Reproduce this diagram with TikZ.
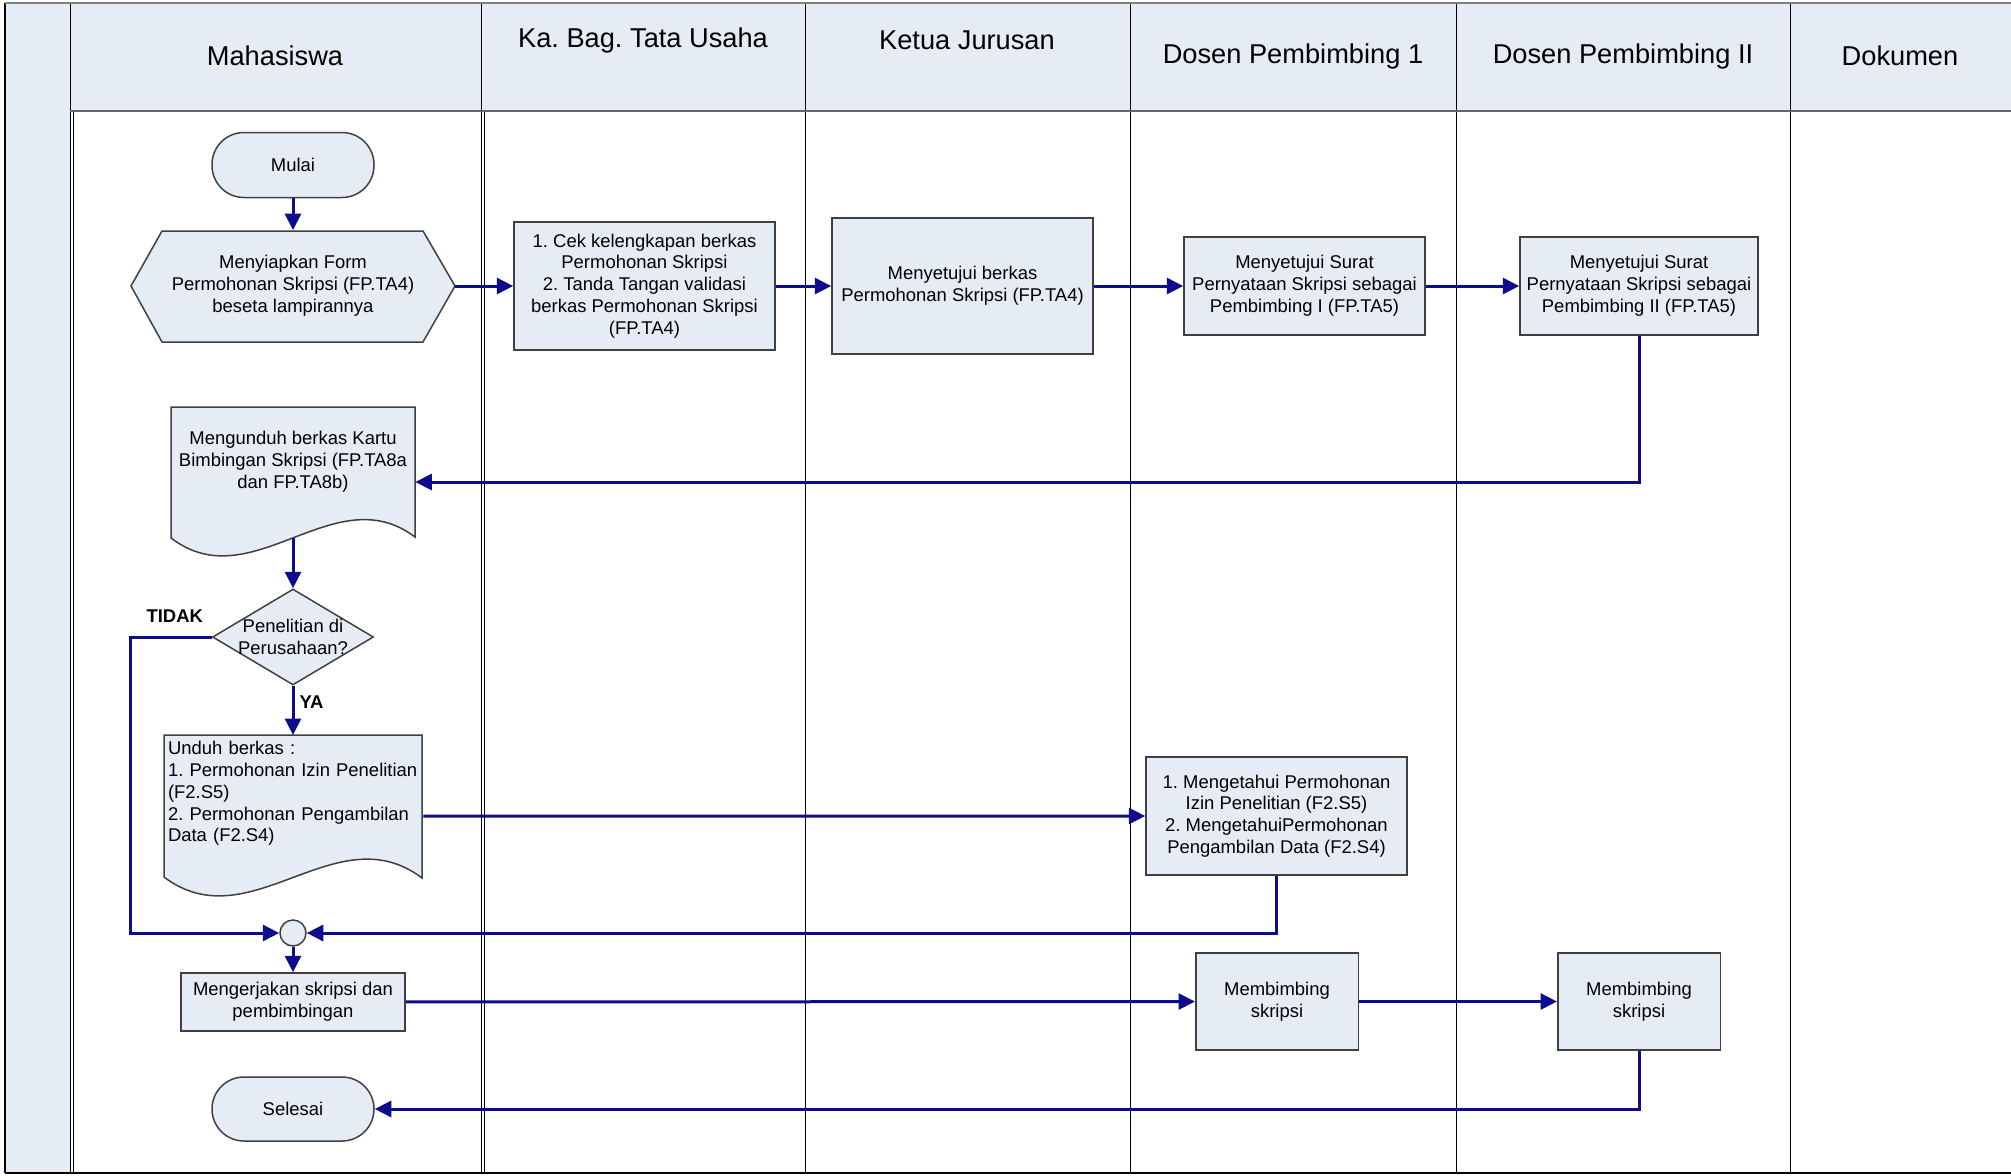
\documentclass[tikz,border=0pt]{standalone}
\usepackage{fontspec}
\setmainfont{Liberation Sans}
\usetikzlibrary{arrows.meta,shapes.geometric}
\definecolor{laneblue}{HTML}{E6ECF6}
\definecolor{flowblue}{HTML}{0C0C8C}
\definecolor{edgegray}{HTML}{404040}
\frenchspacing

\tikzset{
	shp/.style={draw=edgegray,line width=0.3mm,fill=laneblue},
	proc/.style={shp,rectangle,align=center,inner sep=1mm,font=\fontsize{10.5}{12.4}\selectfont},
	term/.style={proc,rounded corners=6.4mm,minimum width=32.4mm,minimum height=13mm},
	txt/.style={align=center,inner sep=1mm,font=\fontsize{10.5}{12.4}\selectfont},
	flow/.style={draw=flowblue,line width=0.6mm,-{Triangle[length=3.3mm,width=3.2mm]}},
	lane/.style={line width=0.2mm},
	head/.style={font=\fontsize{15.5}{18}\selectfont},
	yesno/.style={font=\bfseries\fontsize{10.5}{12.4}\selectfont,inner sep=1mm}
}

\begin{document}
\begin{tikzpicture}[x=0.2mm,y=-0.2mm]
	\useasboundingbox (0,0) rectangle (2011,1176);
	\fill[laneblue] (5,3) rectangle (70,1173);
	\fill[laneblue] (70,3) rectangle (2011,111);
	\draw[line width=0.35mm] (5,3) -- (5,1173);
	\foreach \x in {70,481,805,1130,1456,1790}
		\draw[lane] (\x,3) -- (\x,1173);
	\foreach \x in {73,484}
		\draw[lane] (\x,111) -- (\x,1173);
	\draw[gray,line width=0.5mm] (5,3) -- (2011,3);
	\draw[gray!80!black,line width=0.5mm] (70,111) -- (2011,111);
	\draw[line width=0.4mm] (5,1173) -- (2011,1173);

	\node[head] (hmhs) at (275,56) {Mahasiswa};
	\node[head] (htu) at (643,40) {Ka. Bag. Tata Usaha};
	\node[head] (hkj) at (967,40) {Ketua Jurusan};
	\node[head] (hdpa) at (1293,56) {Dosen Pembimbing 1};
	\node[head] (hdpb) at (1623,56) {Dosen Pembimbing II};
	\node[head] (hdok) at (1900,56) {Dokumen};

	\node[term] (mulai) at (293,165) {Mulai};
	\draw[shp] (131,286) -- (162,231) -- (423,231) -- (455,286) -- (423,342) -- (162,342) -- cycle;
	\node[txt,minimum width=64.8mm,minimum height=22.2mm] (siap) at (293,286) {Menyiapkan Form\\Permohonan Skripsi (FP.TA4)\\beseta lampirannya};
	\node[proc,minimum width=52.2mm,minimum height=25.6mm] (cek) at (644.5,286) {1. Cek kelengkapan berkas\\Permohonan Skripsi\\2. Tanda Tangan validasi\\berkas Permohonan Skripsi\\(FP.TA4)};
	\node[proc,minimum width=52.2mm,minimum height=27.2mm] (setuju) at (962.5,286) {Menyetujui berkas\\Permohonan Skripsi (FP.TA4)};
	\node[proc,minimum width=48.2mm,minimum height=19.6mm] (dsa) at (1304.5,286) {Menyetujui Surat\\Pernyataan Skripsi sebagai\\Pembimbing I (FP.TA5)};
	\node[proc,minimum width=47.6mm,minimum height=19.6mm] (dsb) at (1639,286) {Menyetujui Surat\\Pernyataan Skripsi sebagai\\Pembimbing II (FP.TA5)};

	\draw[shp] (171,407) -- (415,407) -- (415,537) .. controls (334,476) and (252,600) .. (171,538) -- cycle;
	\node[txt,minimum width=48.8mm,minimum height=30.4mm] (unduh) at (293,462) {Mengunduh berkas Kartu\\Bimbingan Skripsi (FP.TA8a\\dan FP.TA8b)};
	\node[shp,diamond,minimum width=32.2mm,minimum height=19.2mm,inner sep=0pt] (tanya) at (293,637) {};
	\node[txt] (tanyatxt) at (293,637) {Penelitian di\\Perusahaan?};

	\draw[shp] (164,735) -- (422,735) -- (422,878) .. controls (336,813) and (250,942) .. (164,877) -- cycle;
	\node[txt,align=left,anchor=north,text width=50mm,inner xsep=1mm,inner ysep=1.2mm] (berkas) at (293,735) {Unduh berkas :\\1. Permohonan Izin Penelitian\\(F2.S5)\\2. Permohonan Pengambilan\\Data (F2.S4)};
	\node[proc,minimum width=52.2mm,minimum height=23.6mm] (tahu) at (1276.5,816) {1. Mengetahui Permohonan\\Izin Penelitian (F2.S5)\\2. MengetahuiPermohonan\\Pengambilan Data (F2.S4)};

	\node[shp,circle,minimum size=5.2mm,inner sep=0pt] (gab) at (293,933) {};
	\node[proc,minimum width=44.8mm,minimum height=11.6mm] (kerja) at (293,1002) {Mengerjakan skripsi dan\\pembimbingan};
	\node[proc,minimum width=32.5mm,minimum height=19.4mm] (bimba) at (1277,1001.5) {Membimbing\\skripsi};
	\node[proc,minimum width=32.5mm,minimum height=19.4mm] (bimbb) at (1639,1001.5) {Membimbing\\skripsi};
	\node[term,minimum height=12.8mm] (selesai) at (293,1109) {Selesai};

	\draw[flow] (mulai) -- (siap);
	\draw[flow] (siap) -- (cek);
	\draw[flow] (cek) -- (setuju);
	\draw[flow] (setuju) -- (dsa);
	\draw[flow] (dsa) -- (dsb);
	\draw[flow] (dsb.south) |- ([yshift=-4mm]unduh.east);
	\draw[flow] (unduh.south) -- (tanya.north);
	\draw[flow] (tanya.south) -- node[yesno,right,yshift=1.6mm] (ya) {YA} (berkas.north);
	\draw[flow] (tanya.west) -- node[yesno,above,xshift=0.7mm,yshift=1.6mm] (tidak) {TIDAK} ++(-81,0) |- (gab.west);
	\draw[flow] ([yshift=-16.2mm]berkas.north east) -- (tahu.west);
	\draw[flow] (tahu.south) |- (gab.east);
	\draw[flow] (gab) -- (kerja);
	\draw[flow] (kerja) -- (bimba);
	\draw[flow] (bimba) -- (bimbb);
	\draw[flow] (bimbb.south) |- (selesai.east);
\end{tikzpicture}
\end{document}
